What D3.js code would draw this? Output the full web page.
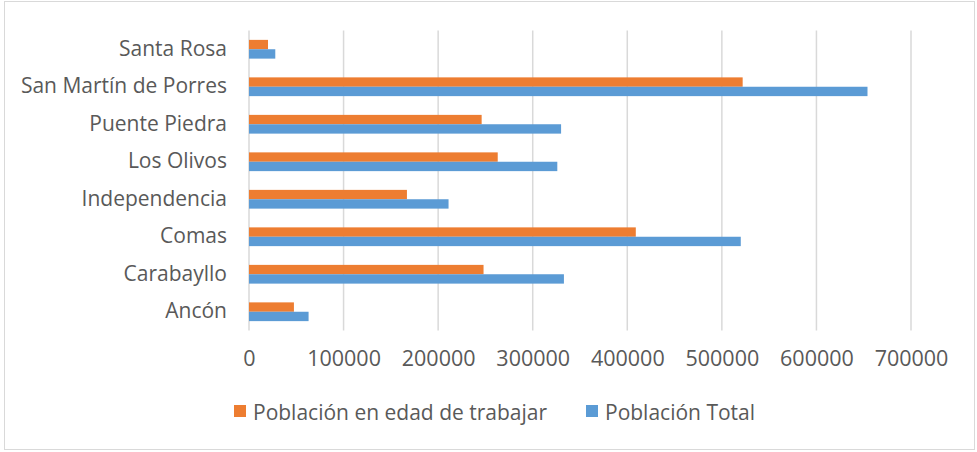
<!DOCTYPE html>
<html>
<head>
<meta charset="utf-8">
<script src="https://cdn.jsdelivr.net/npm/d3@7"></script>
<style>
  body { margin: 0; background: #fff; }
  text { font-family: "Open Sans", "Liberation Sans", sans-serif; fill: #595959; }
</style>
</head>
<body>
<div id="chart-container"></div>
<script>
// distritos, de arriba hacia abajo
const districts = ["Santa Rosa", "San Martín de Porres", "Puente Piedra", "Los Olivos",
    "Independencia", "Comas", "Carabayllo", "Ancón"];
const seriesNames = ["Población en edad de trabajar", "Población Total"];
const workingAge = [20100, 522000, 246000, 263000, 167000, 409000, 248000, 47500];
const totalPop = [27800, 654000, 330000, 326000, 211000, 520000, 333000, 63000];
const xTicks = [0, 100000, 200000, 300000, 400000, 500000, 600000, 700000];

const colors = ["#ED7D31", "#5B9BD5"];
const width = 977;
const height = 452;
const plot = {left: 249, right: 911, top: 30.5, bottom: 330.5};

const svg = d3.select("#chart-container").append("svg")
    .attr("width", width)
    .attr("height", height);

// borde del gráfico
svg.append("rect")
    .attr("x", 4.5).attr("y", 1.5)
    .attr("width", 970).attr("height", 448)
    .attr("fill", "white")
    .attr("stroke", "#d9d9d9");

const x = d3.scaleLinear()
    .domain([0, 700000])
    .range([plot.left, plot.right]);

const y = d3.scaleBand()
    .domain(districts)
    .range([plot.top, plot.bottom])
    .paddingInner(0.5)
    .paddingOuter(0.25);

const ySub = d3.scaleBand()
    .domain(seriesNames)
    .range([0, y.bandwidth()]);

// líneas de cuadrícula
svg.append("g")
    .selectAll("line")
    .data(xTicks)
    .join("line")
    .attr("x1", d => x(d)).attr("x2", d => x(d))
    .attr("y1", plot.top).attr("y2", plot.bottom)
    .attr("stroke", "#d9d9d9")
    .attr("stroke-width", 1.5);

const rows = districts.map((name, i) => ({name, values: [workingAge[i], totalPop[i]]}));

const groups = svg.append("g")
    .selectAll("g")
    .data(rows)
    .join("g")
    .attr("transform", d => `translate(0, ${y(d.name)})`);

groups.selectAll("rect")
    .data(d => d.values.map((v, j) => ({series: seriesNames[j], value: v, color: colors[j]})))
    .join("rect")
    .attr("x", x(0))
    .attr("y", d => ySub(d.series))
    .attr("width", d => x(d.value) - x(0))
    .attr("height", ySub.bandwidth())
    .attr("fill", d => d.color);

// eje de categorías
const yAxis = svg.append("g")
    .attr("transform", `translate(${plot.left}, 0)`)
    .call(d3.axisLeft(y).tickSize(0).tickPadding(22));
yAxis.select(".domain").remove();
yAxis.selectAll("text")
    .style("font-size", "21px")
    .attr("fill", "#595959");

// eje de valores
const xAxis = svg.append("g")
    .attr("transform", `translate(0, ${plot.bottom})`)
    .call(d3.axisBottom(x).tickValues(xTicks).tickFormat(d3.format("d")).tickSize(0).tickPadding(20));
xAxis.select(".domain").remove();
xAxis.selectAll("text")
    .style("font-size", "21.5px")
    .attr("fill", "#595959");

// leyenda
const legendItems = [
    {name: seriesNames[0], color: colors[0], x: 234},
    {name: seriesNames[1], color: colors[1], x: 586}
];
const legend = svg.append("g")
    .selectAll("g")
    .data(legendItems)
    .join("g")
    .attr("transform", d => `translate(${d.x}, 405)`);
legend.append("rect")
    .attr("width", 12).attr("height", 12)
    .attr("fill", d => d.color);
legend.append("text")
    .attr("x", 19)
    .attr("y", 15)
    .style("font-size", "21px")
    .text(d => d.name);
</script>
</body>
</html>
